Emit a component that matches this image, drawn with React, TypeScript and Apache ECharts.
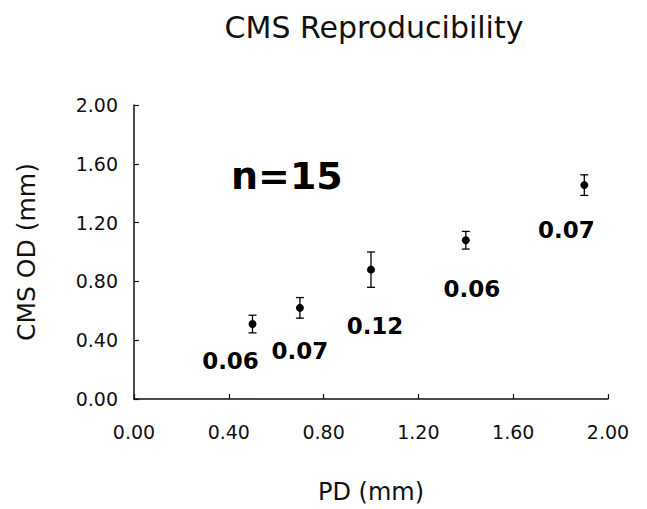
import React, { useEffect, useRef } from "react";
import * as echarts from "echarts";

// Data
const pdValues = [0.5, 0.7, 1.0, 1.4, 1.9];
const odMeans = [0.51, 0.62, 0.88, 1.08, 1.455];
const odSD = [0.06, 0.07, 0.12, 0.06, 0.07];
const xTicks = ["0.00", "0.40", "0.80", "1.20", "1.60", "2.00"];
const sampleSize = 15;

// Label placement (pixel offsets from each point, styling only)
const labelOffsets: [number, number][] = [
  [-22, 37],
  [0, 43],
  [4, 56],
  [6, 49],
  [-18, 45],
];

export default function App() {
  const ref = useRef<HTMLDivElement>(null);
  useEffect(() => {
    if (!ref.current) return;
    const chart = echarts.init(ref.current, null, { renderer: "svg" });
    const font = "'DejaVu Sans', sans-serif";
    const points = pdValues.map((x, i) => [x, odMeans[i]]);
    const bars = pdValues.map((x, i) => [x, odMeans[i] - odSD[i], odMeans[i] + odSD[i]]);
    chart.setOption({
      animation: false,
      backgroundColor: "#fff",
      title: {
        text: "CMS Reproducibility",
        left: 369,
        top: 7,
        textAlign: "center",
        textStyle: { fontFamily: font, fontSize: 30, fontWeight: "normal", color: "#111" },
      },
      grid: { left: 134, right: 39, top: 105, bottom: 104, containLabel: false },
      xAxis: {
        type: "value",
        min: 0,
        max: 2,
        interval: 0.4,
        name: "PD (mm)",
        nameLocation: "middle",
        nameGap: 81,
        nameTextStyle: { fontFamily: font, fontSize: 24, color: "#111" },
        axisLine: { show: true, lineStyle: { color: "#111", width: 1.5 } },
        axisTick: { show: true, inside: true, length: 5, lineStyle: { color: "#111", width: 1.2 } },
        axisLabel: {
          margin: 23,
          fontFamily: font,
          fontSize: 19,
          color: "#111",
          formatter: (v: number) => xTicks[Math.round(v / 0.4)] ?? v.toFixed(2),
        },
        splitLine: { show: false },
      },
      yAxis: {
        type: "value",
        min: 0,
        max: 2,
        interval: 0.4,
        name: "CMS OD (mm)",
        nameLocation: "middle",
        nameGap: 95,
        nameTextStyle: { fontFamily: font, fontSize: 25, color: "#111" },
        axisLine: { show: true, lineStyle: { color: "#111", width: 1.5 } },
        axisTick: { show: true, inside: true, length: 5, lineStyle: { color: "#111", width: 1.2 } },
        axisLabel: {
          margin: 16,
          fontFamily: font,
          fontSize: 19,
          color: "#111",
          formatter: (v: number) => v.toFixed(2),
        },
        splitLine: { show: false },
      },
      graphic: [
        {
          type: "text",
          left: 231,
          top: 157,
          style: {
            text: `n=${sampleSize}`,
            font: `bold 38px ${font}`,
            fill: "#000",
          },
        },
      ],
      series: [
        {
          type: "custom",
          data: bars,
          renderItem: (params: any, api: any) => {
            const x = api.value(0);
            const lo = api.coord([x, api.value(1)]);
            const hi = api.coord([x, api.value(2)]);
            const cw = 4;
            const style = { stroke: "#000", lineWidth: 1.3 };
            return {
              type: "group",
              children: [
                { type: "line", shape: { x1: lo[0], y1: lo[1], x2: hi[0], y2: hi[1] }, style },
                { type: "line", shape: { x1: lo[0] - cw, y1: lo[1], x2: lo[0] + cw, y2: lo[1] }, style },
                { type: "line", shape: { x1: hi[0] - cw, y1: hi[1], x2: hi[0] + cw, y2: hi[1] }, style },
              ],
            };
          },
          z: 2,
        },
        {
          type: "scatter",
          symbol: "circle",
          symbolSize: 8,
          itemStyle: { color: "#000", opacity: 1 },
          data: points.map((p, i) => ({
            value: p,
            label: {
              show: true,
              position: "inside",
              offset: labelOffsets[i],
              formatter: odSD[i].toFixed(2),
              fontFamily: font,
              fontWeight: "bold",
              fontSize: 23,
              color: "#000",
              opacity: 1,
            },
          })),
          z: 3,
        },
      ],
    });
    return () => chart.dispose();
  }, []);
  return <div ref={ref} style={{ width: 647, height: 509, position: "absolute", left: 0, top: 0 }} />;
}
